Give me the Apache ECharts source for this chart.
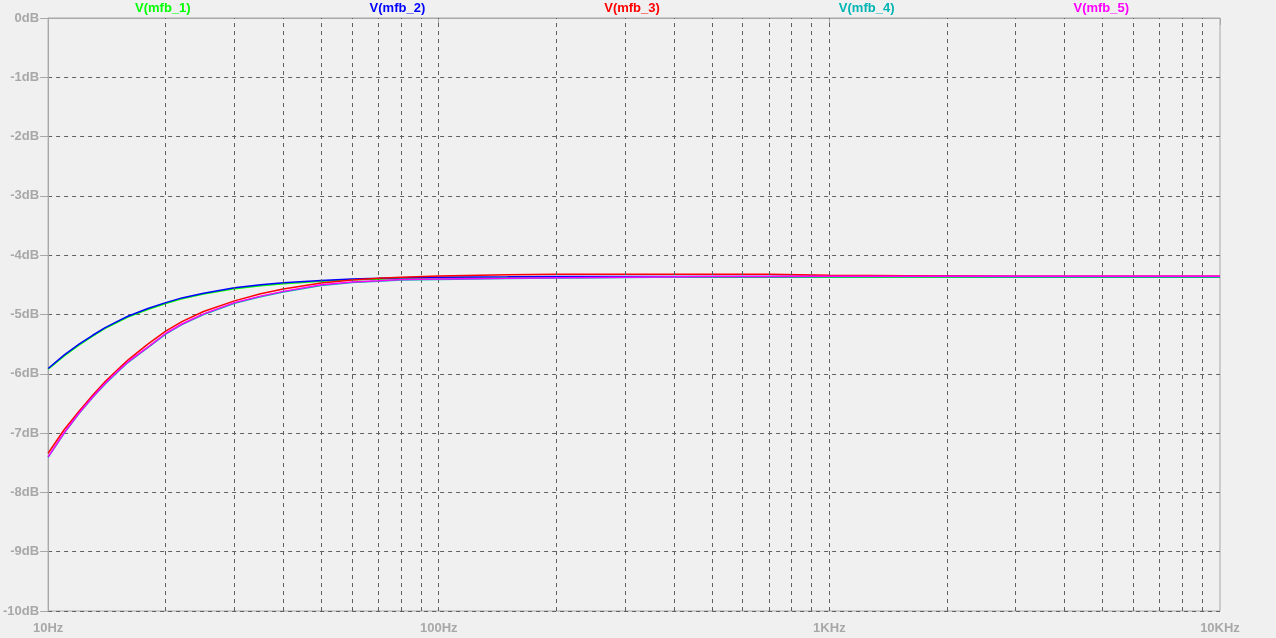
<!DOCTYPE html>
<html>
<head>
<meta charset="utf-8">
<script src="https://cdn.jsdelivr.net/npm/echarts@6/dist/echarts.min.js"></script>
<style>
html,body{margin:0;padding:0;background:#f0f0f0;}
#chart{width:1276px;height:638px;}
</style>
</head>
<body>
<div id="chart"></div>
<script>
// Frequencies (Hz)
const freqs = [10, 11, 12, 13, 14, 15, 16, 18, 20, 22, 25, 30, 35, 40, 50, 60, 70, 80, 100, 150, 200, 300, 500, 700, 1000, 2000, 3000, 5000, 10000];
// Magnitudes (dB)
const mfb1 = [-5.92, -5.70, -5.515, -5.365, -5.235, -5.135, -5.045, -4.915, -4.815, -4.735, -4.655, -4.565, -4.515, -4.48, -4.44, -4.415, -4.405, -4.395, -4.385, -4.38, -4.375, -4.37, -4.37, -4.37, -4.37, -4.37, -4.37, -4.37, -4.37];
const mfb2 = [-5.91, -5.68, -5.50, -5.35, -5.22, -5.12, -5.03, -4.90, -4.80, -4.72, -4.64, -4.55, -4.50, -4.465, -4.425, -4.40, -4.39, -4.38, -4.37, -4.365, -4.36, -4.36, -4.36, -4.36, -4.355, -4.355, -4.36, -4.36, -4.36];
const mfb3 = [-7.34, -6.94, -6.63, -6.36, -6.13, -5.94, -5.77, -5.50, -5.28, -5.12, -4.95, -4.77, -4.65, -4.57, -4.47, -4.42, -4.39, -4.37, -4.35, -4.33, -4.32, -4.32, -4.32, -4.32, -4.34, -4.35, -4.355, -4.355, -4.355];
const mfb4 = [-7.41, -7.00, -6.67, -6.40, -6.17, -5.98, -5.81, -5.56, -5.33, -5.17, -5.00, -4.81, -4.70, -4.62, -4.51, -4.46, -4.44, -4.42, -4.41, -4.395, -4.385, -4.375, -4.365, -4.365, -4.365, -4.365, -4.365, -4.365, -4.365];
const mfb5 = [-7.40, -6.99, -6.66, -6.39, -6.16, -5.97, -5.80, -5.55, -5.32, -5.16, -4.99, -4.80, -4.69, -4.61, -4.50, -4.45, -4.43, -4.41, -4.40, -4.39, -4.38, -4.37, -4.36, -4.36, -4.355, -4.355, -4.355, -4.355, -4.355];
const seriesNames = ['V(mfb_1)', 'V(mfb_2)', 'V(mfb_3)', 'V(mfb_4)', 'V(mfb_5)'];
const seriesColors = ['#00ff00', '#0000ff', '#ff0000', '#00b4b4', '#ff00ff'];
// Axis ticks
const xTickValues = [10, 100, 1000, 10000];
const xTickLabels = ['10Hz', '100Hz', '1KHz', '10KHz'];
const xGridValues = [20, 30, 40, 50, 60, 70, 80, 90, 100, 200, 300, 400, 500, 600, 700, 800, 900, 1000, 2000, 3000, 4000, 5000, 6000, 7000, 8000, 9000];

const allData = [mfb1, mfb2, mfb3, mfb4, mfb5];
const font = 'Liberation Sans';
const axisGrey = '#a8a8a8';
const gridDark = '#606060';

const chart = echarts.init(document.getElementById('chart'), null, {renderer: 'canvas'});

const series = [{
  type: 'line',
  name: '__grid',
  data: [],
  z: 1,
  silent: true,
  markLine: {
    silent: true,
    symbol: ['none', 'none'],
    label: {show: false},
    animation: false,
    lineStyle: {color: gridDark, type: [4, 4], width: 1},
    data: xGridValues.map(v => ({xAxis: v}))
  }
}];
allData.forEach((d, i) => {
  series.push({
    type: 'line',
    name: seriesNames[i],
    data: freqs.map((f, j) => [f, d[j]]),
    showSymbol: false,
    smooth: false,
    z: 2 + i,
    lineStyle: {color: seriesColors[i], width: 1.5},
    itemStyle: {color: seriesColors[i]},
    animation: false
  });
});

chart.setOption({
  backgroundColor: '#f0f0f0',
  animation: false,
  legend: {
    top: 2,
    left: 130,
    padding: 0,
    itemWidth: 0,
    itemHeight: 0,
    itemGap: 174,
    icon: 'none',
    selectedMode: false,
    data: seriesNames.map((n, i) => ({
      name: n,
      textStyle: {color: seriesColors[i], fontFamily: font, fontWeight: 'bold', fontSize: 13}
    }))
  },
  grid: {
    left: 46, right: 56, top: 18, bottom: 27,
    show: true, borderColor: axisGrey, borderWidth: 1, backgroundColor: 'transparent'
  },
  xAxis: {
    type: 'log',
    logBase: 10,
    min: 10,
    max: 10000,
    splitNumber: 3,
    axisLine: {show: true, lineStyle: {color: axisGrey, width: 1}},
    axisTick: {show: true, length: 7, lineStyle: {color: axisGrey}},
    splitLine: {show: false},
    axisLabel: {
      color: axisGrey, fontFamily: font, fontWeight: 'bold', fontSize: 13, margin: 11,
      formatter: v => {
        const k = xTickValues.findIndex(t => Math.abs(t - v) < 1e-6 * t);
        return k >= 0 ? xTickLabels[k] : '';
      }
    }
  },
  yAxis: {
    type: 'value',
    min: -10,
    max: 0,
    interval: 1,
    axisLine: {show: true, lineStyle: {color: axisGrey, width: 1}},
    axisTick: {show: true, length: 8, lineStyle: {color: axisGrey}},
    splitLine: {show: true, lineStyle: {color: gridDark, type: [4, 4], width: 1}},
    axisLabel: {
      color: axisGrey, fontFamily: font, fontWeight: 'bold', fontSize: 13, margin: 9,
      formatter: v => v + 'dB'
    }
  },
  series: series
});
</script>
</body>
</html>
